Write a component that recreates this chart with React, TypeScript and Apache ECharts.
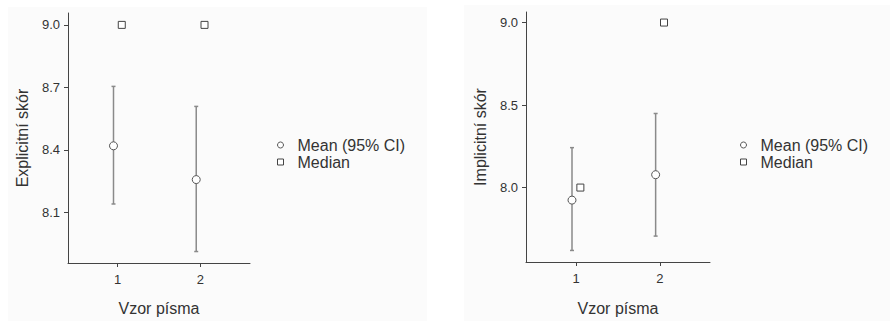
import React, { useEffect, useRef } from "react";
import * as echarts from "echarts";

const categories = ["1", "2"];
const leftMean = [8.42, 8.258];
const leftLow = [8.141, 7.913];
const leftHigh = [8.705, 8.609];
const leftMedian = [9.0, 9.0];
const leftTicks = [8.1, 8.4, 8.7, 9.0];

const rightMean = [7.924, 8.078];
const rightLow = [7.619, 7.706];
const rightHigh = [8.242, 8.449];
const rightMedian = [8.0, 9.0];
const rightTicks = [8.0, 8.5, 9.0];

const meanName = "Mean (95% CI)";
const medianName = "Median";
const dodge = 0.05;
const font = "'Liberation Sans', Arial, sans-serif";

export default function App() {
  const ref = useRef<HTMLDivElement>(null);
  useEffect(() => {
    if (!ref.current) return;
    const chart = echarts.init(ref.current, null, { renderer: "svg" });
    const axisColor = "#444";
    const textColor = "#333";

    const xAxis = (gi: number, nameGap: number) => ({
      type: "value",
      gridIndex: gi,
      min: 0.4,
      max: 2.6,
      name: "Vzor písma",
      nameLocation: "middle",
      nameGap,
      nameTextStyle: { fontSize: 16, color: textColor, fontFamily: font },
      axisLine: { show: true, lineStyle: { color: axisColor, width: 1 } },
      axisTick: { show: true, length: 4, customValues: categories.map((_, i) => i + 1), lineStyle: { color: axisColor } },
      axisLabel: {
        customValues: categories.map((_, i) => i + 1),
        formatter: (v: number) => categories[Math.round(v) - 1] ?? "",
        fontSize: 13,
        color: textColor,
        fontFamily: font,
        margin: 10,
      },
      splitLine: { show: false },
    });
    const yAxis = (gi: number, name: string, min: number, max: number, ticks: number[]) => ({
      type: "value",
      gridIndex: gi,
      min,
      max,
      name,
      nameLocation: "middle",
      nameGap: 38,
      nameTextStyle: { fontSize: 16, color: textColor, fontFamily: font },
      axisLine: { show: true, lineStyle: { color: axisColor, width: 1 } },
      axisTick: { show: true, length: 4, customValues: ticks, lineStyle: { color: axisColor } },
      axisLabel: {
        customValues: ticks,
        formatter: (v: number) => v.toFixed(1),
        fontSize: 13,
        color: textColor,
        fontFamily: font,
        margin: 8,
      },
      splitLine: { show: false },
    });

    const errSeries = (gi: number, low: number[], high: number[]) => ({
      type: "custom",
      xAxisIndex: gi,
      yAxisIndex: gi,
      data: low.map((l, i) => [i + 1 - dodge, l, high[i]]),
      renderItem: (params: any, api: any) => {
        const x = api.value(0);
        const lo = api.coord([x, api.value(1)]);
        const hi = api.coord([x, api.value(2)]);
        const style = { stroke: "#8a8a8a", lineWidth: 1.5 };
        return {
          type: "group",
          children: [
            { type: "line", shape: { x1: lo[0], y1: lo[1], x2: hi[0], y2: hi[1] }, style },
            { type: "line", shape: { x1: lo[0] - 2, y1: lo[1], x2: lo[0] + 2, y2: lo[1] }, style },
            { type: "line", shape: { x1: hi[0] - 2, y1: hi[1], x2: hi[0] + 2, y2: hi[1] }, style },
          ],
        };
      },
      silent: true,
      z: 1,
    });
    const meanSeries = (gi: number, mean: number[]) => ({
      type: "scatter",
      name: meanName,
      xAxisIndex: gi,
      yAxisIndex: gi,
      symbol: "circle",
      symbolSize: 8,
      itemStyle: { color: "#fff", borderColor: "#555", borderWidth: 1, opacity: 1 },
      data: mean.map((m, i) => [i + 1 - dodge, m]),
      z: 3,
    });
    const medianSeries = (gi: number, med: number[]) => ({
      type: "scatter",
      name: medianName,
      xAxisIndex: gi,
      yAxisIndex: gi,
      symbol: "rect",
      symbolSize: 7,
      itemStyle: { color: "#fff", borderColor: "#444", borderWidth: 1, opacity: 1 },
      data: med.map((m, i) => [i + 1 + dodge, m]),
      z: 3,
    });
    const legend = (left: number) => ({
      left,
      top: 132,
      orient: "vertical",
      itemWidth: 24,
      itemHeight: 6,
      itemGap: 1,
      symbolKeepAspect: true,
      selectedMode: false,
      textStyle: { fontSize: 16, color: textColor, fontFamily: font },
      data: [
        { name: meanName, icon: "circle", itemStyle: { color: "#fff", borderColor: "#555", borderWidth: 1 } },
        { name: medianName, icon: "path://M0,0L10,0L10,10L0,10Z", itemStyle: { color: "#fff", borderColor: "#444", borderWidth: 1 } },
      ],
    });

    chart.setOption({
      animation: false,
      backgroundColor: "#fff",
      graphic: [
        { type: "rect", shape: { x: 8, y: 7, width: 419, height: 320 }, style: { fill: "#fbfbfb" }, z: -10 },
        { type: "rect", shape: { x: 464, y: 5, width: 430, height: 320 }, style: { fill: "#fbfbfb" }, z: -10 },
      ],
      grid: [
        { left: 68, top: 13, width: 182, height: 254 },
        { left: 526, top: 12, width: 184, height: 260 },
      ],
      legend: [legend(272), legend(735)],
      xAxis: [xAxis(0, 37), xAxis(1, 38)],
      yAxis: [
        yAxis(0, "Explicitní skór", 7.858, 9.057, leftTicks),
        yAxis(1, "Implicitní skór", 7.549, 9.064, rightTicks),
      ],
      series: [
        errSeries(0, leftLow, leftHigh),
        meanSeries(0, leftMean),
        medianSeries(0, leftMedian),
        errSeries(1, rightLow, rightHigh),
        meanSeries(1, rightMean),
        medianSeries(1, rightMedian),
      ],
    });
    return () => chart.dispose();
  }, []);
  return <div ref={ref} style={{ width: 890, height: 321, position: "absolute", left: 0, top: 0 }} />;
}
